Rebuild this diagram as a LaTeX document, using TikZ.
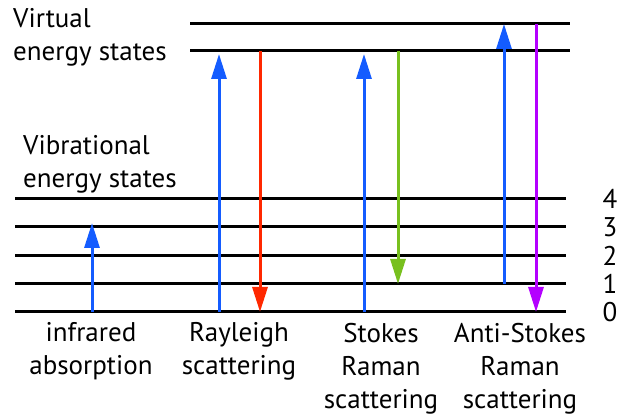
\documentclass[tikz,border=0pt]{standalone}
\usepackage{fontspec}
\setmainfont{PT Sans}
\usetikzlibrary{arrows.meta}
\definecolor{pumpblue}{RGB}{20,92,255}
\definecolor{rayred}{RGB}{255,40,0}
\definecolor{stokesgreen}{RGB}{120,192,30}
\definecolor{antipurple}{RGB}{180,0,255}
\tikzset{
  level/.style={line width=3pt},
  transition/.style={line width=3pt,-{Triangle[width=15pt,length=25pt]}},
  lbl/.style={font=\fontsize{27}{33}\selectfont,inner sep=0pt,align=center,anchor=base},
  side/.style={font=\fontsize{27}{33}\selectfont,inner sep=0pt,align=left,anchor=base west},
  num/.style={font=\fontsize{27}{30}\selectfont,inner sep=0pt}
}
\begin{document}
\begin{tikzpicture}[x=1pt,y=-1pt]
\useasboundingbox (0,0) rectangle (619,419);
% virtual states
\coordinate (vA) at (190,24);  \coordinate (vB) at (570,24);
\coordinate (wA) at (190,51);  \coordinate (wB) at (570,51);
\draw[level] (vA) -- (vB);
\draw[level] (wA) -- (wB);
% vibrational states 0..4
\foreach \n/\y in {4/199,3/227,2/256,1/284,0/312}{
  \coordinate (L\n a) at (15,\y);
  \coordinate (L\n b) at (566,\y);
  \draw[level] (L\n a) -- (L\n b);
  \node[num] (n\n) at (610,\y) {\n};
}
% side labels (anchored at the baseline of their last line)
\node[side] (virt) at (13,61) {Virtual\\energy states};
\node[side] (vib) at (23,188) {Vibrational\\energy states};
% transition end points
\coordinate (irS) at (92,312);  \coordinate (irE) at (92,223);
\coordinate (ryU0) at (219,312); \coordinate (ryU1) at (219,54);
\coordinate (ryD0) at (260,51);  \coordinate (ryD1) at (260,312);
\coordinate (stU0) at (364,312); \coordinate (stU1) at (364,54);
\coordinate (stD0) at (398,51);  \coordinate (stD1) at (398,284);
\coordinate (asU0) at (504,284); \coordinate (asU1) at (504,24);
\coordinate (asD0) at (536,24);  \coordinate (asD1) at (536,312);
\draw[transition,pumpblue] (irS) -- (irE);
\draw[transition,pumpblue] (ryU0) -- (ryU1);
\draw[transition,rayred] (ryD0) -- (ryD1);
\draw[transition,pumpblue] (stU0) -- (stU1);
\draw[transition,stokesgreen] (stD0) -- (stD1);
\draw[transition,pumpblue] (asU0) -- (asU1);
\draw[transition,antipurple] (asD0) -- (asD1);
% process labels
\node[lbl] (ir) at (91,375) {infrared\\absorption};
\node[lbl] (ry) at (239,375) {Rayleigh\\scattering};
\node[lbl] (st) at (381,409) {Stokes\\Raman\\scattering};
\node[lbl] (as) at (520,409) {Anti-Stokes\\Raman\\scattering};
\end{tikzpicture}
\end{document}
